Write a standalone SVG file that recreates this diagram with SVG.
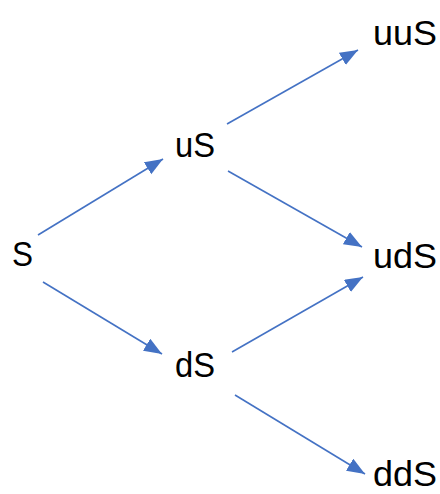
<svg xmlns="http://www.w3.org/2000/svg" width="440" height="494" viewBox="0 0 440 494">
  <style>
    .lbl { font-family: "Liberation Sans", Arial, sans-serif; font-size: 35px; fill: #000; }
    .edge { stroke: #4472C4; stroke-width: 1.6; fill: none; marker-end: url(#arrow); }
  </style>
  <defs>
    <marker id="arrow" markerUnits="userSpaceOnUse" markerWidth="19" markerHeight="15" refX="18" refY="7" orient="auto">
      <path d="M0,0 L18,7 L0,14 z" fill="#4472C4"/>
    </marker>
  </defs>
  <rect width="440" height="494" fill="#fff"/>

  <g id="connectors">
    <line class="edge" x1="38" y1="235" x2="163" y2="159"/>
    <line class="edge" x1="227" y1="124" x2="358" y2="50"/>
    <line class="edge" x1="228" y1="171" x2="362" y2="247"/>
    <line class="edge" x1="43" y1="282" x2="162" y2="354"/>
    <line class="edge" x1="232" y1="352" x2="363" y2="277"/>
    <line class="edge" x1="235" y1="395" x2="365" y2="474"/>
  </g>

  <g id="node-S"><text class="lbl" x="12" y="266" textLength="21" lengthAdjust="spacingAndGlyphs">S</text></g>
  <g id="node-uS"><text class="lbl" x="175" y="157" textLength="40" lengthAdjust="spacingAndGlyphs">uS</text></g>
  <g id="node-dS"><text class="lbl" x="175" y="377" textLength="40" lengthAdjust="spacingAndGlyphs">dS</text></g>
  <g id="node-uuS"><text class="lbl" x="373" y="45" textLength="64" lengthAdjust="spacingAndGlyphs">uuS</text></g>
  <g id="node-udS"><text class="lbl" x="373" y="268" textLength="64" lengthAdjust="spacingAndGlyphs">udS</text></g>
  <g id="node-ddS"><text class="lbl" x="373" y="486" textLength="64" lengthAdjust="spacingAndGlyphs">ddS</text></g>
</svg>
